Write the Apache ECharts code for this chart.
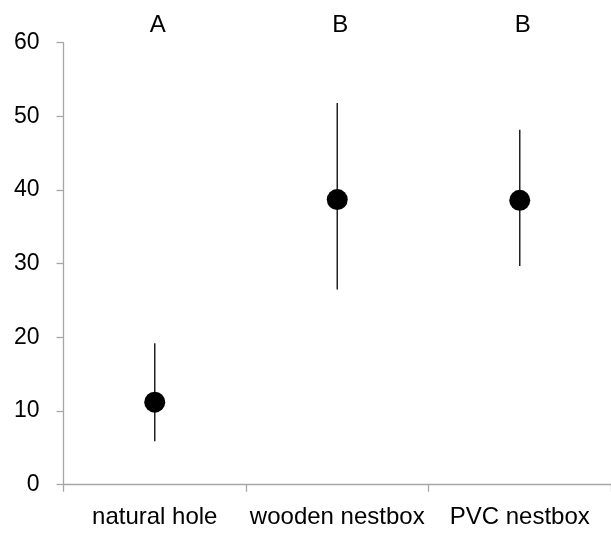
<!DOCTYPE html>
<html>
<head>
<meta charset="utf-8">
<script src="https://cdn.jsdelivr.net/npm/echarts@6/dist/echarts.min.js"></script>
<style>html,body{margin:0;padding:0;background:#fff}#c{width:611px;height:533px}</style>
</head>
<body>
<div id="c"></div>
<script>
var categories = ['natural hole', 'wooden nestbox', 'PVC nestbox'];
var groupLetters = ['A', 'B', 'B'];
var means = [11.2, 38.7, 38.6];
var upper = [19.2, 51.8, 48.2];
var lower = [5.9, 26.5, 29.7];

var FONT = 'Liberation Sans';
var chart = echarts.init(document.getElementById('c'), null, {renderer: 'canvas'});
chart.setOption({
  animation: false,
  backgroundColor: '#ffffff',
  grid: {left: 63.5, top: 42.7, width: 552, height: 442},
  xAxis: [{
    type: 'category',
    data: categories,
    position: 'bottom',
    axisLine: {lineStyle: {color: '#a6a6a6', width: 1.3}},
    axisTick: {show: true, interval: 0, length: 7, lineStyle: {color: '#a6a6a6', width: 1.3}},
    axisLabel: {interval: 0, color: '#000', fontFamily: FONT, fontSize: 24, margin: 21, lineHeight: 24},
    splitLine: {show: false}
  }, {
    type: 'category',
    data: groupLetters,
    position: 'top',
    axisLine: {show: false},
    axisTick: {show: false},
    axisLabel: {interval: 0, color: '#000', fontFamily: FONT, fontSize: 24, margin: 5, lineHeight: 24, padding: [0, 0, 0, 6]},
    splitLine: {show: false}
  }],
  yAxis: {
    type: 'value',
    min: 0, max: 60, interval: 10,
    axisLine: {show: true, lineStyle: {color: '#a6a6a6', width: 1.3}},
    axisTick: {show: true, length: 7, lineStyle: {color: '#a6a6a6', width: 1.3}},
    axisLabel: {color: '#000', fontFamily: FONT, fontSize: 23, margin: 24},
    splitLine: {show: false}
  },
  series: [{
    type: 'custom',
    xAxisIndex: 0,
    data: categories.map(function (c, i) { return [i, lower[i], upper[i]]; }),
    encode: {x: 0, y: [1, 2]},
    renderItem: function (params, api) {
      var lo = api.coord([api.value(0), api.value(1)]);
      var hi = api.coord([api.value(0), api.value(2)]);
      return {
        type: 'line',
        shape: {x1: lo[0], y1: lo[1], x2: hi[0], y2: hi[1]},
        style: {stroke: '#222', lineWidth: 1.5}
      };
    },
    z: 2
  }, {
    type: 'scatter',
    xAxisIndex: 0,
    data: means,
    symbol: 'circle',
    symbolSize: 21,
    itemStyle: {color: '#000', opacity: 1},
    z: 3
  }]
});
</script>
</body>
</html>
